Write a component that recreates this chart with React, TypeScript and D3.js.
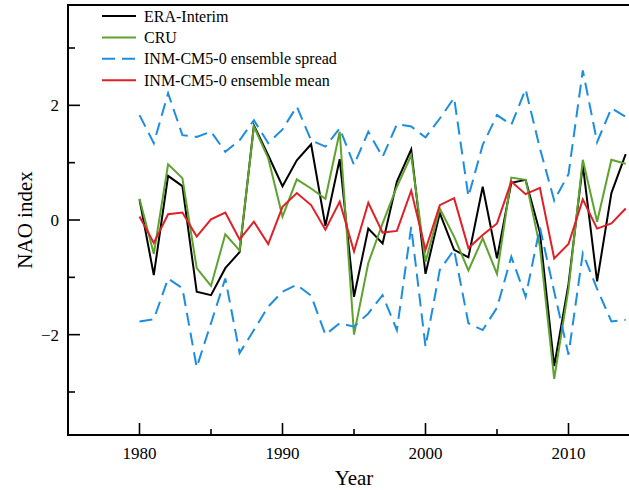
import React from "react";
import * as d3 from "d3";

// NAO index, 1980-2014
const years = d3.range(1980, 2015);
const eraInterim = [
  0.36, -0.96, 0.77, 0.59, -1.25, -1.31, -0.84, -0.56, 1.65, 1.13,
  0.59, 1.04, 1.32, -0.1, 1.06, -1.34, -0.15, -0.41, 0.67, 1.23,
  -0.94, 0.12, -0.52, -0.65, 0.58, -0.67, 0.65, 0.7, -0.22, -2.55,
  -1.12, 0.96, -1.07, 0.47, 1.15,
];
const cru = [
  0.37, -0.59, 0.97, 0.73, -0.84, -1.15, -0.25, -0.53, 1.63, 1.08,
  0.06, 0.71, 0.55, 0.37, 1.54, -2.0, -0.75, -0.06, 0.58, 1.13,
  -0.73, 0.2, -0.29, -0.88, -0.32, -0.94, 0.74, 0.7, -0.46, -2.77,
  -1.2, 1.05, -0.03, 1.05, 0.98,
];
const spreadUpper = [
  1.83, 1.34, 2.21, 1.48, 1.45, 1.54, 1.19, 1.39, 1.74, 1.34,
  1.58, 1.98, 1.39, 1.28, 1.6, 0.96, 1.54, 1.1, 1.67, 1.63,
  1.44, 1.77, 2.13, 0.41, 1.31, 1.83, 1.66, 2.28, 1.25, 0.34,
  0.8, 2.61, 1.36, 1.95, 1.8,
];
const spreadLower = [
  -1.77, -1.73, -1.02, -1.19, -2.57, -1.8, -1.02, -2.32, -1.92, -1.51,
  -1.25, -1.13, -1.32, -2.0, -1.8, -1.86, -1.63, -1.31, -1.92, -0.12,
  -2.21, -0.87, -0.52, -1.8, -1.92, -1.53, -0.64, -1.34, -0.13, -1.25,
  -2.35, -0.58, -1.2, -1.77, -1.74,
];
const ensembleMean = [
  0.06, -0.4, 0.1, 0.13, -0.29, 0.01, 0.13, -0.34, -0.03, -0.42,
  0.23, 0.47, 0.26, -0.17, 0.32, -0.55, 0.3, -0.22, -0.19, 0.51,
  -0.52, 0.26, 0.38, -0.49, -0.26, -0.06, 0.67, 0.45, 0.56, -0.67,
  -0.42, 0.36, -0.15, -0.06, 0.2,
];

const xMajor = [1980, 1990, 2000, 2010];
const xMinor = [1985, 1995, 2005];
const yMajor = [-2, 0, 2];
const yMinor = [-3, -1, 1, 3];

const series = [
  { name: "ERA-Interim", values: eraInterim, color: "#000000", dash: null },
  { name: "CRU", values: cru, color: "#5ea32e", dash: null },
  { name: "INM-CM5-0 ensemble spread", values: spreadUpper, color: "#1b8ee0", dash: "13 7" },
  { name: "INM-CM5-0 ensemble mean", values: ensembleMean, color: "#e01f26", dash: null },
];

const W = 629;
const H = 490;
const left = 68;
const top = 5;
const bottom = 435;

const FONT = "'Liberation Serif', 'Times New Roman', serif";

export default function App() {
  const x = d3.scaleLinear().domain([1975, 2015]).range([left, 640]);
  const y = d3.scaleLinear().domain([-3.75, 3.75]).range([bottom, top]);
  const fmt = d3.format("d");

  const line = d3
    .line<number>()
    .x((_, i) => x(years[i]))
    .y((d) => y(d));

  const drawn = [
    { values: eraInterim, color: series[0].color, dash: null },
    { values: cru, color: series[1].color, dash: null },
    { values: spreadUpper, color: series[2].color, dash: series[2].dash },
    { values: spreadLower, color: series[2].color, dash: series[2].dash },
    { values: ensembleMean, color: series[3].color, dash: null },
  ];

  return (
    <svg
      width={W}
      height={H}
      style={{ position: "absolute", left: 0, top: 0, background: "#fff" }}
      fontFamily={FONT}
    >
      {drawn.map((s, i) => (
        <path
          key={i}
          d={line(s.values) || ""}
          fill="none"
          stroke={s.color}
          strokeWidth={2}
          strokeDasharray={s.dash || undefined}
          strokeLinejoin="miter"
        />
      ))}

      {/* frame */}
      <path
        d={`M${x(2017)},${top}H${left}V${bottom}H${x(2017)}`}
        fill="none"
        stroke="#000"
        strokeWidth={2}
      />

      {/* x ticks */}
      {xMajor.map((t) => (
        <g key={"xm" + t}>
          <line x1={x(t)} x2={x(t)} y1={bottom} y2={bottom - 12} stroke="#000" strokeWidth={1.6} />
          <text x={x(t)} y={bottom + 24} fontSize={17} textAnchor="middle">
            {fmt(t)}
          </text>
        </g>
      ))}
      {xMinor.map((t) => (
        <line key={"xn" + t} x1={x(t)} x2={x(t)} y1={bottom} y2={bottom - 6} stroke="#000" strokeWidth={1.6} />
      ))}

      {/* y ticks */}
      {yMajor.map((t) => (
        <g key={"ym" + t}>
          <line x1={left} x2={left + 12} y1={y(t)} y2={y(t)} stroke="#000" strokeWidth={1.6} />
          <text x={left - 9} y={y(t) + 6} fontSize={17} textAnchor="end">
            {d3.format("d")(t)}
          </text>
        </g>
      ))}
      {yMinor.map((t) => (
        <line key={"yn" + t} x1={left} x2={left + 7} y1={y(t)} y2={y(t)} stroke="#000" strokeWidth={1.6} />
      ))}

      {/* axis titles */}
      <text x={x(1995)} y={485} fontSize={21} textAnchor="middle">
        Year
      </text>
      <text
        transform={`translate(32,${y(0)}) rotate(-90)`}
        fontSize={21}
        textAnchor="middle"
      >
        NAO index
      </text>

      {/* legend */}
      {series.map((s, i) => {
        const cy = 16 + i * 21.4;
        return (
          <g key={s.name}>
            <line
              x1={102}
              x2={136}
              y1={cy}
              y2={cy}
              stroke={s.color}
              strokeWidth={2}
              strokeDasharray={s.dash || undefined}
            />
            <text x={144} y={cy + 5.5} fontSize={16}>
              {s.name}
            </text>
          </g>
        );
      })}
    </svg>
  );
}
